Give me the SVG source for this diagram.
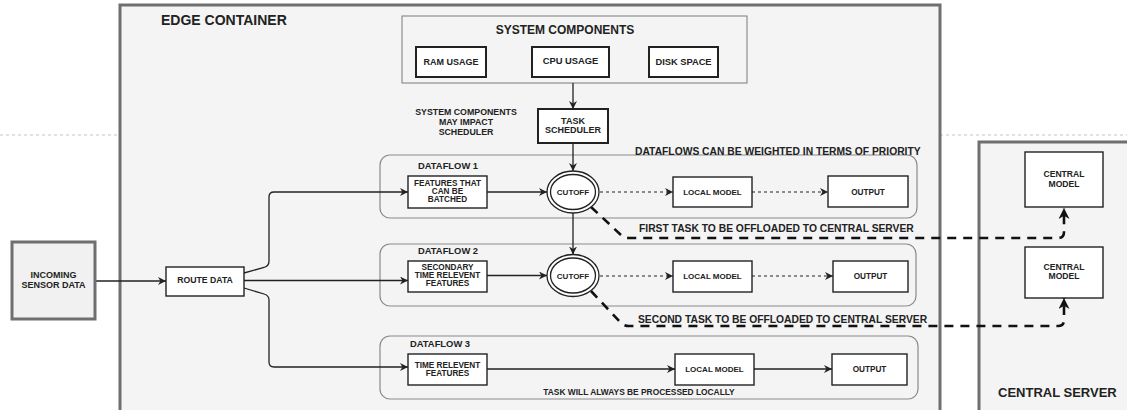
<svg xmlns="http://www.w3.org/2000/svg" width="1127" height="410" viewBox="0 0 1127 410">
<style>
text { font-family: "Liberation Sans", Arial, sans-serif; font-weight: bold; fill: #222; }
.c { text-anchor: middle; }
.container { fill: #f4f4f4; stroke: #6f6f6f; stroke-width: 3; }
.group { fill: #f4f4f4; stroke: #7a7a7a; stroke-width: 1; }
.flow { fill: #f4f4f4; stroke: #8a8a8a; stroke-width: 1.2; }
.box { fill: #fff; stroke: #222; stroke-width: 1.4; }
.box2 { fill: #fff; stroke: #222; stroke-width: 2; }
.ell { fill: #fff; stroke: #222; stroke-width: 1.3; }
.line { fill: none; stroke: #222; stroke-width: 1.3; }
.dash { fill: none; stroke: #222; stroke-width: 1.2; stroke-dasharray: 3 3; }
.heavy { fill: none; stroke: #111; stroke-width: 2.6; stroke-dasharray: 9 7; }
.guide { fill: none; stroke: #c4c4c4; stroke-width: 1; stroke-dasharray: 3 3; }
</style>
<defs>
<marker id="arr" viewBox="0 0 10 10" refX="10" refY="5" markerWidth="8" markerHeight="8" markerUnits="userSpaceOnUse" orient="auto">
<path d="M0,0 L10,5 L0,10 L3,5 z" fill="#222" stroke="none"/>
</marker>
<marker id="arrBig" viewBox="0 0 10 10" refX="10" refY="5" markerWidth="11" markerHeight="11" markerUnits="userSpaceOnUse" orient="auto">
<path d="M0,0 L10,5 L0,10 L3,5 z" fill="#111" stroke="none"/>
</marker>
</defs>
<rect x="0" y="0" width="1127" height="410" fill="#fff"/>
<line class="guide" x1="0" y1="135" x2="120" y2="135"/>
<line class="guide" x1="940" y1="135" x2="1127" y2="135"/>

<g id="edge-container">
<rect class="container" x="120" y="5" width="820" height="420"/>
<text x="161" y="25" font-size="14">EDGE CONTAINER</text>
</g>

<g id="central-server">
<rect class="container" x="979" y="142" width="200" height="300"/>
<text x="998" y="397" font-size="13">CENTRAL SERVER</text>
</g>

<g id="system-components">
<rect class="group" x="402" y="16" width="345" height="67"/>
<text class="c" x="565" y="34" font-size="12">SYSTEM COMPONENTS</text>
</g>

<g id="scheduler-note">
<text class="c" font-size="8.8"><tspan x="466" y="114.5">SYSTEM COMPONENTS</tspan><tspan x="466" y="124.5">MAY IMPACT</tspan><tspan x="466" y="134.5">SCHEDULER</tspan></text>
</g>

<g id="dataflow-1">
<rect class="flow" x="380" y="155" width="537" height="63" rx="10"/>
<text x="418" y="169" font-size="9.4">DATAFLOW 1</text>
</g>
<g id="dataflow-2">
<rect class="flow" x="380" y="244" width="536" height="62" rx="10"/>
<text x="418" y="254" font-size="9.4">DATAFLOW 2</text>
</g>
<g id="dataflow-3">
<rect class="flow" x="380" y="336" width="538" height="63" rx="10"/>
<text x="410" y="347" font-size="9.4">DATAFLOW 3</text>
<text class="c" x="639" y="395" font-size="8.4">TASK WILL ALWAYS BE PROCESSED LOCALLY</text>
</g>

<g id="labels">
<text x="635" y="155" font-size="10.3">DATAFLOWS CAN BE WEIGHTED IN TERMS OF PRIORITY</text>
<text x="639" y="232" font-size="10.3">FIRST TASK TO BE OFFLOADED TO CENTRAL SERVER</text>
<text x="638" y="322.5" font-size="10.3">SECOND TASK TO BE OFFLOADED TO CENTRAL SERVER</text>
</g>

<g id="connectors">
<line class="line" x1="573" y1="83" x2="573" y2="109" marker-end="url(#arr)"/>
<line class="line" x1="573" y1="143" x2="573" y2="171" marker-end="url(#arr)"/>
<line class="line" x1="573" y1="213" x2="573" y2="254.5" marker-end="url(#arr)"/>
<line class="line" x1="95" y1="281" x2="166" y2="281" marker-end="url(#arr)"/>
<path class="line" d="M244,273 L264,267.5 Q269,266 269,261 L269,197 Q269,192 274,192 L408,192" marker-end="url(#arr)"/>
<line class="line" x1="244" y1="280.5" x2="408" y2="280.5" marker-end="url(#arr)"/>
<path class="line" d="M244,288 L264,294 Q269,295.5 269,300 L269,362 Q269,367 274,367 L408,367" marker-end="url(#arr)"/>
<line class="line" x1="487" y1="192" x2="547" y2="192" marker-end="url(#arr)"/>
<line class="line" x1="487" y1="275.5" x2="547" y2="275.5" marker-end="url(#arr)"/>
<line class="dash" x1="600" y1="192" x2="673" y2="192" marker-end="url(#arr)"/>
<line class="dash" x1="752" y1="192" x2="828" y2="192" marker-end="url(#arr)"/>
<line class="dash" x1="600" y1="276" x2="673" y2="276" marker-end="url(#arr)"/>
<line class="dash" x1="752" y1="276" x2="833" y2="276" marker-end="url(#arr)"/>
<line class="line" x1="487" y1="369" x2="675" y2="369" marker-end="url(#arr)"/>
<line class="line" x1="754" y1="369" x2="832" y2="369" marker-end="url(#arr)"/>
<path class="heavy" d="M591,207 L621,235 Q624,238 629,238 L1058,238 Q1064,238 1064,232 L1064,208" marker-end="url(#arrBig)"/>
<path class="heavy" d="M591,291 L621,323 Q624,326 629,326 L1058,326 Q1064,326 1064,320 L1064,298" marker-end="url(#arrBig)"/>
</g>

<g id="incoming-sensor-data">
<rect x="12" y="242" width="83" height="77" fill="#f1f1f1" stroke="#6f6f6f" stroke-width="3"/>
<text class="c" font-size="9"><tspan x="53.5" y="278">INCOMING</tspan><tspan x="53.5" y="288">SENSOR DATA</tspan></text>
</g>
<g id="route-data">
<rect class="box" x="166" y="267" width="78" height="29"/>
<text class="c" x="205" y="283" font-size="8.7">ROUTE DATA</text>
</g>
<g id="ram-usage">
<rect class="box2" x="416" y="47" width="70" height="30"/>
<text class="c" x="451" y="65" font-size="9">RAM USAGE</text>
</g>
<g id="cpu-usage">
<rect class="box2" x="532" y="47" width="77" height="30"/>
<text class="c" x="570.5" y="64" font-size="9.4">CPU USAGE</text>
</g>
<g id="disk-space">
<rect class="box2" x="649" y="47" width="69" height="30"/>
<text class="c" x="683.5" y="64.5" font-size="9.3">DISK SPACE</text>
</g>
<g id="task-scheduler">
<rect class="box2" x="538" y="109" width="70" height="34"/>
<text class="c" font-size="9"><tspan x="573" y="124">TASK</tspan><tspan x="573" y="133">SCHEDULER</tspan></text>
</g>

<g id="features-batched">
<rect class="box" x="408" y="176" width="79" height="32"/>
<text class="c" font-size="8.2"><tspan x="447.5" y="186">FEATURES THAT</tspan><tspan x="447.5" y="194">CAN BE</tspan><tspan x="447.5" y="202">BATCHED</tspan></text>
</g>
<g id="cutoff-1">
<ellipse class="ell" cx="573" cy="192" rx="26" ry="21"/>
<ellipse class="ell" cx="573" cy="192" rx="22.5" ry="17.5"/>
<text class="c" x="573" y="195" font-size="8">CUTOFF</text>
</g>
<g id="local-model-1">
<rect class="box" x="673" y="177" width="79" height="30"/>
<text class="c" x="712.5" y="194.5" font-size="8">LOCAL MODEL</text>
</g>
<g id="output-1">
<rect class="box" x="828" y="176" width="80" height="31"/>
<text class="c" x="868" y="194.5" font-size="8.2">OUTPUT</text>
</g>

<g id="secondary-features">
<rect class="box" x="408" y="261" width="79" height="31"/>
<text class="c" font-size="8.2"><tspan x="447.5" y="270">SECONDARY</tspan><tspan x="447.5" y="278">TIME RELEVENT</tspan><tspan x="447.5" y="286">FEATURES</tspan></text>
</g>
<g id="cutoff-2">
<ellipse class="ell" cx="573" cy="275.5" rx="26" ry="21"/>
<ellipse class="ell" cx="573" cy="275.5" rx="22.5" ry="17.5"/>
<text class="c" x="573" y="278.5" font-size="8">CUTOFF</text>
</g>
<g id="local-model-2">
<rect class="box" x="673" y="261" width="79" height="31"/>
<text class="c" x="712.5" y="278.5" font-size="8">LOCAL MODEL</text>
</g>
<g id="output-2">
<rect class="box" x="833" y="261" width="75" height="31"/>
<text class="c" x="870.5" y="278.5" font-size="8.2">OUTPUT</text>
</g>

<g id="time-relevant-features">
<rect class="box" x="408" y="354" width="79" height="31"/>
<text class="c" font-size="8.2"><tspan x="447.5" y="367.5">TIME RELEVENT</tspan><tspan x="447.5" y="376">FEATURES</tspan></text>
</g>
<g id="local-model-3">
<rect class="box" x="675" y="354" width="79" height="31"/>
<text class="c" x="714.5" y="372" font-size="8">LOCAL MODEL</text>
</g>
<g id="output-3">
<rect class="box" x="832" y="354" width="75" height="31"/>
<text class="c" x="869.5" y="372" font-size="8.2">OUTPUT</text>
</g>

<g id="central-model-1">
<rect class="box" x="1025" y="152" width="78" height="55"/>
<text class="c" font-size="8.6"><tspan x="1064" y="177">CENTRAL</tspan><tspan x="1064" y="187">MODEL</tspan></text>
</g>
<g id="central-model-2">
<rect class="box" x="1025" y="247" width="78" height="51"/>
<text class="c" font-size="8.6"><tspan x="1064" y="269.5">CENTRAL</tspan><tspan x="1064" y="279">MODEL</tspan></text>
</g>
</svg>
